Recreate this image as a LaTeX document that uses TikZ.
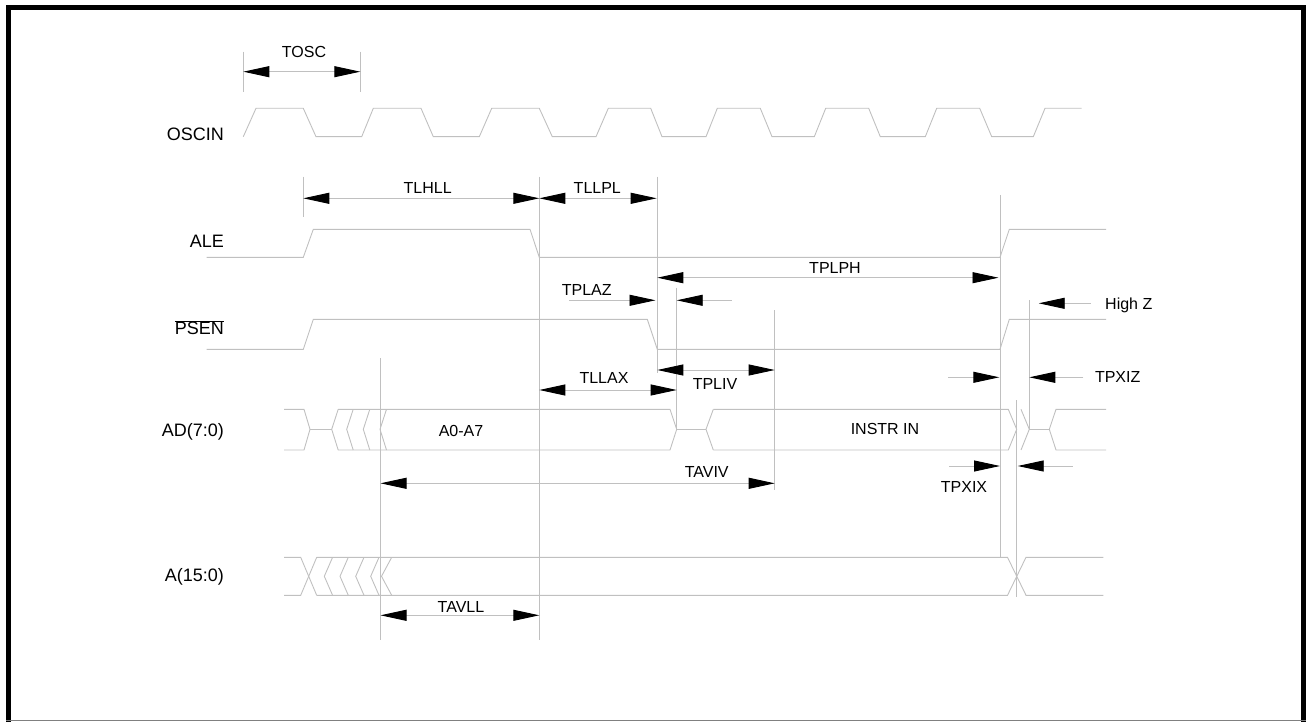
\documentclass[tikz,border=0pt]{standalone}
\usepackage{fontspec}
\setmainfont{Liberation Sans}
\usetikzlibrary{arrows.meta}
\definecolor{lg}{RGB}{192,192,192}
\begin{document}
\begin{tikzpicture}[x=1pt,y=-1pt,
  wave/.style={draw=lg,line width=0.9pt,line join=miter},
  vline/.style={draw=lg,line width=0.9pt},
  dim/.style={draw=lg,line width=0.9pt},
  lbl/.style={font=\fontsize{16}{19}\selectfont,inner sep=0pt},
  sig/.style={font=\fontsize{18}{21}\selectfont,inner sep=0pt,anchor=base east},
  >={Triangle[length=26pt,width=11pt,color=black,fill=black]}]
\useasboundingbox (0,0) rectangle (1306,722);
% frame
\draw[line width=5pt] (8.5,722) -- (8.5,7.5) -- (1303.5,7.5) -- (1303.5,722);
\draw[gray,line width=1.5pt] (6,720.5) -- (1306,720.5);

% signal names
\node[sig] (oscin) at (224,140.2) {OSCIN};
\node[sig] (ale) at (224,247.2) {ALE};
\node[sig] (psen) at (224,334.8) {$\overline{\mbox{PSEN}}$};
\node[sig] (ad) at (224,436.5) {AD(7:0)};
\node[sig] (a) at (224,581.5) {A(15:0)};

% OSCIN
\draw[wave] (243.3,136.7)--(256,108.3)--(303.3,108.3)--(316,136.7)--(361.7,136.7)--(373.3,108.3)--(421,108.3)--(433.3,136.7)--(479.3,136.7)--(491.7,108.3)--(539.3,108.3)--(552.3,136.7)--(596,136.7)--(608.3,108.3)--(650.7,108.3)--(662,136.7)--(706,136.7)--(717.3,108.3)--(760.3,108.3)--(772,136.7)--(814.3,136.7)--(825.7,108.3)--(868.7,108.3)--(880.3,136.7)--(925.3,136.7)--(936.7,108.3)--(979.7,108.3)--(991.7,136.7)--(1033.3,136.7)--(1045,108.3)--(1081.7,108.3);

% ALE
\draw[wave] (206.7,257.3)--(303.3,257.3)--(313.3,229.3)--(530,229.3)--(539.3,257.3)--(1000,257.3)--(1009.3,229.3)--(1106,229.3);

% PSEN
\draw[wave] (206.7,349.3)--(303.3,349.3)--(313.3,319.3)--(647.3,319.3)--(657.3,349.3)--(1000,349.3)--(1009.3,319.3)--(1106,319.3);

% AD(7:0)
\draw[wave] (284,409.3)--(304,409.3)--(310,429.3)--(304,450)--(284,450);
\draw[wave] (310,429.3)--(331.7,429.3);
\foreach \t in {331.7,346.7,363.3,380}{\draw[wave] (\t+6.5,409.3)--(\t,429.3)--(\t+6.5,450);}
\draw[wave] (338.2,409.3)--(670,409.3)--(676.7,429.3)--(670,450)--(338.2,450);
\draw[wave] (676.7,429.3)--(706,429.3);
\draw[wave] (713.3,409.3)--(706,429.3)--(713.3,450);
\draw[wave] (713.3,409.3)--(1008.3,409.3)--(1016.7,429.3)--(1008.3,450)--(713.3,450);
\draw[wave] (1021,409.3)--(1029.3,429.3)--(1021,450);
\draw[wave] (1029.3,429.3)--(1049.3,429.3);
\draw[wave] (1106,409.3)--(1056,409.3)--(1049.3,429.3)--(1056,450)--(1106,450);

% A(15:0)
\draw[wave] (284,557.3)--(300.7,557.3)--(316.7,595.3);
\draw[wave] (284,595.3)--(300.7,595.3)--(316.7,557.3);
\foreach \t in {324.3,340,355.7,370.7}{\draw[wave] (\t+8.3,557.3)--(\t,576.3)--(\t+8.3,595.3);}
\draw[wave] (391.7,557.3)--(381.5,576.3)--(391.7,595.3);
\draw[wave] (316.7,557.3)--(1007.5,557.3)--(1026,595.3)--(1103.3,595.3);
\draw[wave] (316.7,595.3)--(1007.5,595.3)--(1026,557.3)--(1103.3,557.3);

% vertical reference lines
\draw[vline] (243.3,51.7)--(243.3,91.7);
\draw[vline] (360.3,51.7)--(360.3,91.7);
\draw[vline] (303.3,176.7)--(303.3,217.3);
\draw[vline] (539.3,176.7)--(539.3,640);
\draw[vline] (657,176.7)--(657,373);
\draw[vline] (1000,195)--(1000,558);
\draw[vline] (676.7,287.7)--(676.7,429.3);
\draw[vline] (774.7,310)--(774.7,490);
\draw[vline] (1029.3,300)--(1029.3,429.3);
\draw[vline] (380,358)--(380,640);
\draw[vline] (1016.7,400)--(1016.7,597);

% dimension arrows
\draw[dim,<->] (243.3,71.7)--(360.3,71.7);
\draw[dim,<->] (303.3,198.3)--(539.3,198.3);
\draw[dim,<->] (539.3,198.3)--(656.7,198.3);
\draw[dim,<->] (657.3,277.7)--(998.5,277.7);
\draw[dim,->] (569.3,300.3)--(655.5,300.3);
\draw[dim,->] (731.7,300.3)--(676.7,300.3);
\draw[dim,->] (1090.7,303.3)--(1038.7,303.3);
\draw[dim,<->] (539.3,390)--(676.7,390);
\draw[dim,<->] (657.3,370)--(774.7,370);
\draw[dim,->] (948.3,377.3)--(999.3,377.3);
\draw[dim,->] (1083.3,377.3)--(1029.3,377.3);
\draw[dim,->] (949.3,466)--(1000,466);
\draw[dim,->] (1072.7,466)--(1017.7,466);
\draw[dim,<->] (380.5,483.3)--(774.7,483.3);
\draw[dim,<->] (380.5,615.3)--(539.3,615.3);

% timing labels
\node[lbl] (tosc) at (304,52) {TOSC};
\node[lbl] (tlhll) at (427.7,188.3) {TLHLL};
\node[lbl] (tllpl) at (597.3,188.3) {TLLPL};
\node[lbl] (tplph) at (835,268.3) {TPLPH};
\node[lbl] (tplaz) at (586.7,290) {TPLAZ};
\node[lbl,anchor=base west] (highz) at (1105,309) {High Z};
\node[lbl] (tllax) at (604,378.3) {TLLAX};
\node[lbl] (tpliv) at (715,384) {TPLIV};
\node[lbl] (tpxiz) at (1117.7,377.3) {TPXIZ};
\node[lbl] (a0a7) at (461,431) {A0-A7};
\node[lbl] (instr) at (885,429) {INSTR IN};
\node[lbl] (taviv) at (706.7,471.7) {TAVIV};
\node[lbl] (tpxix) at (964,487.3) {TPXIX};
\node[lbl] (tavll) at (461,606.7) {TAVLL};
\end{tikzpicture}
\end{document}
